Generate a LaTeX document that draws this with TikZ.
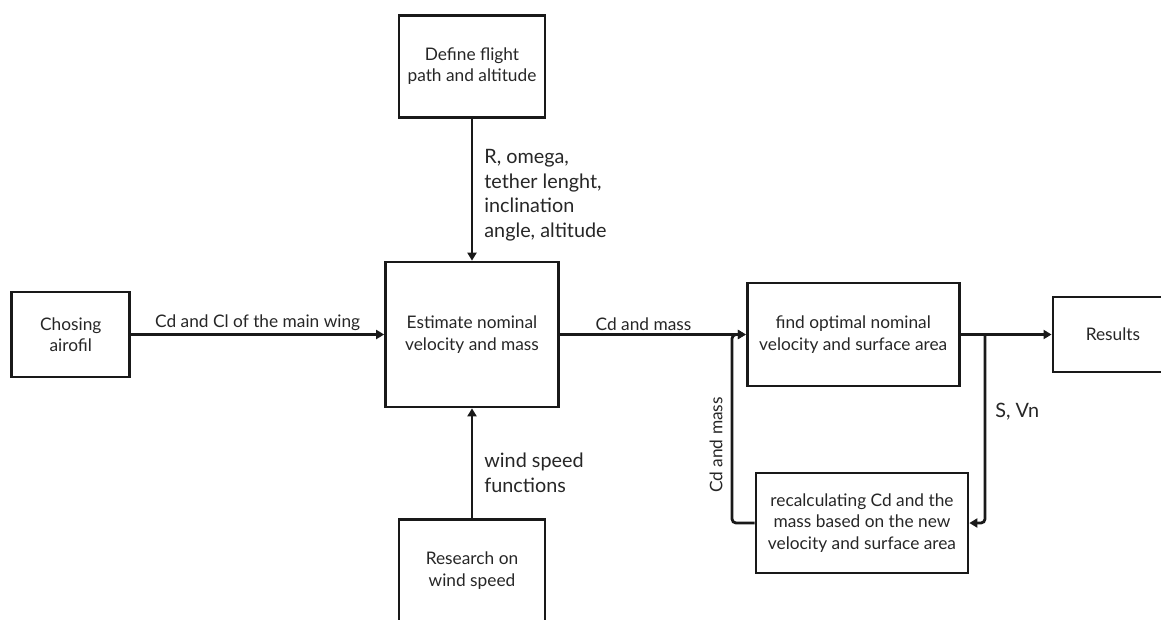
\documentclass[tikz,border=0pt]{standalone}
\usepackage{fontspec}
\setmainfont{Lato}
\usetikzlibrary{arrows.meta, positioning}

\begin{document}
\begin{tikzpicture}[x=1pt, y=-1pt,
    every node/.style={font=\fontsize{17.3}{21.5}\selectfont, text=black!85},
    stepbox/.style={draw=black!90, line width=2.7pt, align=center,
                    inner sep=0pt},
    flow/.style={draw=black!90, line width=2.8pt,
                 -{Triangle[length=8pt, width=9pt]}},
    sidelabel/.style={font=\fontsize{19.8}{24.5}\selectfont, align=left,
                      inner sep=0pt}
]
\useasboundingbox (0,0) rectangle (1161,619);

% --- centre ---
\node[stepbox, minimum width=173pt, minimum height=145pt] (estimate) at (472,334.5)
    {Estimate nominal\\velocity and mass};

% --- inputs ---
\node[stepbox, minimum width=118pt, minimum height=85pt, left=253pt of estimate] (airfoil)
    {Chosing\\airofil};
\node[stepbox, minimum width=146pt, minimum height=102pt, above=142pt of estimate] (flight)
    {Define flight\\path and altitude};
\node[stepbox, minimum width=146pt, minimum height=102pt, below=110pt of estimate] (wind)
    {Research on\\wind speed};

% --- outputs ---
\node[stepbox, minimum width=212pt, minimum height=103pt, right=186pt of estimate] (optimal)
    {find optimal nominal\\velocity and surface area};
\node[stepbox, minimum width=120pt, minimum height=75pt, right=91pt of optimal] (results)
    {Results};
\node[stepbox, minimum width=212pt, minimum height=100pt] (recalc) at (862,523)
    {recalculating Cd and the\\mass based on the new\\velocity and surface area};

\coordinate (split) at (985,334.5);
\coordinate (loop) at (732,334.5);

% --- connectors ---
\draw[flow] (airfoil) -- node[above=1pt, inner sep=1pt] {Cd and Cl of the main wing} (estimate);
\draw[flow] (flight) -- node[pos=0.54, right=11pt, sidelabel]
    {R, omega,\\tether lenght,\\inclination\\angle, altitude} (estimate);
\draw[flow] (wind) -- node[pos=0.415, right=11pt, sidelabel]
    {wind speed\\functions} (estimate);
\draw[flow] (estimate) -- node[pos=0.45, above=1pt, inner sep=1pt] {Cd and mass} (optimal);
\draw[flow] (optimal) -- (results);

% --- iteration loop ---
\draw[flow, rounded corners=4pt] (split)
    -- node[pos=0.41, right=9pt, sidelabel] {S, Vn} (split |- recalc.east)
    -- (recalc.east);
\draw[flow, rounded corners=4pt] (recalc.west) -- (recalc.west -| loop)
    -- node[pos=0.414, rotate=90, anchor=south, inner sep=8pt] {Cd and mass} (loop)
    -- (optimal.west);
\end{tikzpicture}
\end{document}
